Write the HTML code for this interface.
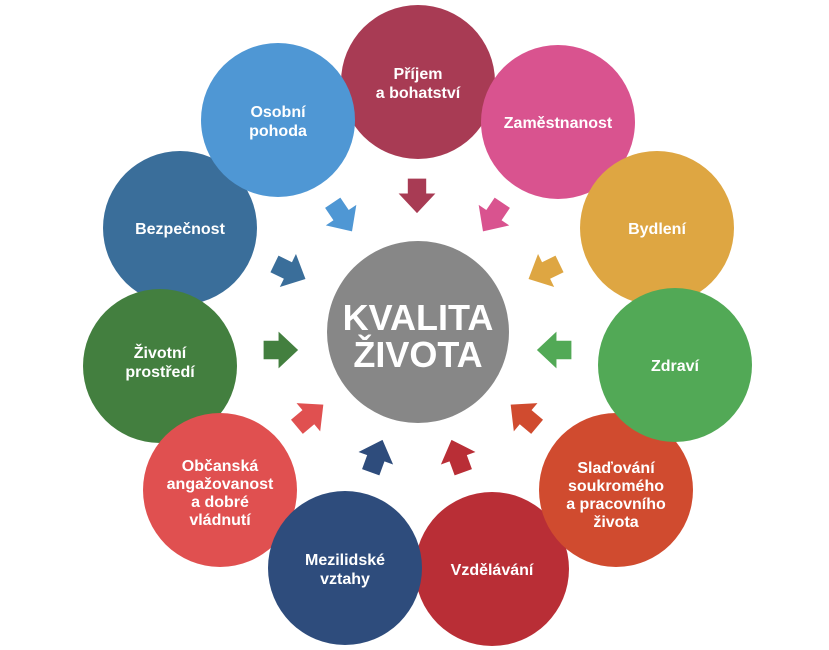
<!DOCTYPE html>
<html><head><meta charset="utf-8"><style>
html,body{margin:0;padding:0;background:#fff;}
svg{display:block}
text{font-family:"Liberation Sans","DejaVu Sans",sans-serif;font-weight:bold;fill:#fff;text-anchor:middle;}
</style></head><body>
<svg width="829" height="650" viewBox="0 0 829 650" xmlns="http://www.w3.org/2000/svg">
<defs>
<polygon id="ar" points="-8,-16 8,-16 8,-3 16,-3 0,14 -16,-3 -8,-3" transform="scale(1.15)"/>
</defs>
<g font-size="16">
<circle cx="180" cy="228" r="77" fill="#3a6e9a"/>
<text x="180" y="234">Bezpečnost</text>
<circle cx="160" cy="366" r="77" fill="#437f3f"/>
<text x="160" y="358">Životní</text><text x="160" y="377">prostředí</text>
<circle cx="220" cy="490" r="77" fill="#e05050"/>
<text x="220" y="471">Občanská</text><text x="220" y="489">angažovanost</text><text x="220" y="507">a dobré</text><text x="220" y="525">vládnutí</text>
<circle cx="418" cy="82" r="77" fill="#a83b54"/>
<text x="418" y="79">Příjem</text><text x="418" y="98">a bohatství</text>
<circle cx="278" cy="120" r="77" fill="#4f97d4"/>
<text x="278" y="117">Osobní</text><text x="278" y="136">pohoda</text>
<circle cx="558" cy="122" r="77" fill="#d9538f"/>
<text x="558" y="128">Zaměstnanost</text>
<circle cx="657" cy="228" r="77" fill="#dea642"/>
<text x="657" y="234">Bydlení</text>
<circle cx="492" cy="569" r="77" fill="#b92e36"/>
<text x="492" y="575">Vzdělávání</text>
<circle cx="616" cy="490" r="77" fill="#d04b2f"/>
<text x="616" y="473">Slaďování</text><text x="616" y="491">soukromého</text><text x="616" y="509">a pracovního</text><text x="616" y="527">života</text>
<circle cx="675" cy="365" r="77" fill="#52a956"/>
<text x="675" y="371">Zdraví</text>
<circle cx="345" cy="568" r="77" fill="#2e4c7c"/>
<text x="345" y="565">Mezilidské</text><text x="345" y="584">vztahy</text>
</g>
<circle cx="418" cy="332" r="91" fill="#878787"/>
<text x="418" y="330" font-size="36">KVALITA</text>
<text x="418" y="367" font-size="36">ŽIVOTA</text>
<use href="#ar" fill="#a83b54" transform="translate(417,197) rotate(0)"/>
<use href="#ar" fill="#d9538f" transform="translate(492,218) rotate(34)"/>
<use href="#ar" fill="#4f97d4" transform="translate(343,218) rotate(-34)"/>
<use href="#ar" fill="#dea642" transform="translate(543,272) rotate(64)"/>
<use href="#ar" fill="#3a6e9a" transform="translate(291,272) rotate(-64)"/>
<use href="#ar" fill="#52a956" transform="translate(553,350) rotate(90)"/>
<use href="#ar" fill="#437f3f" transform="translate(282,350) rotate(-90)"/>
<use href="#ar" fill="#d04b2f" transform="translate(523,415) rotate(130)"/>
<use href="#ar" fill="#e05050" transform="translate(311,415) rotate(-130)"/>
<use href="#ar" fill="#b92e36" transform="translate(457,455) rotate(160)"/>
<use href="#ar" fill="#2e4c7c" transform="translate(377,455) rotate(-160)"/>
</svg>
</body></html>
